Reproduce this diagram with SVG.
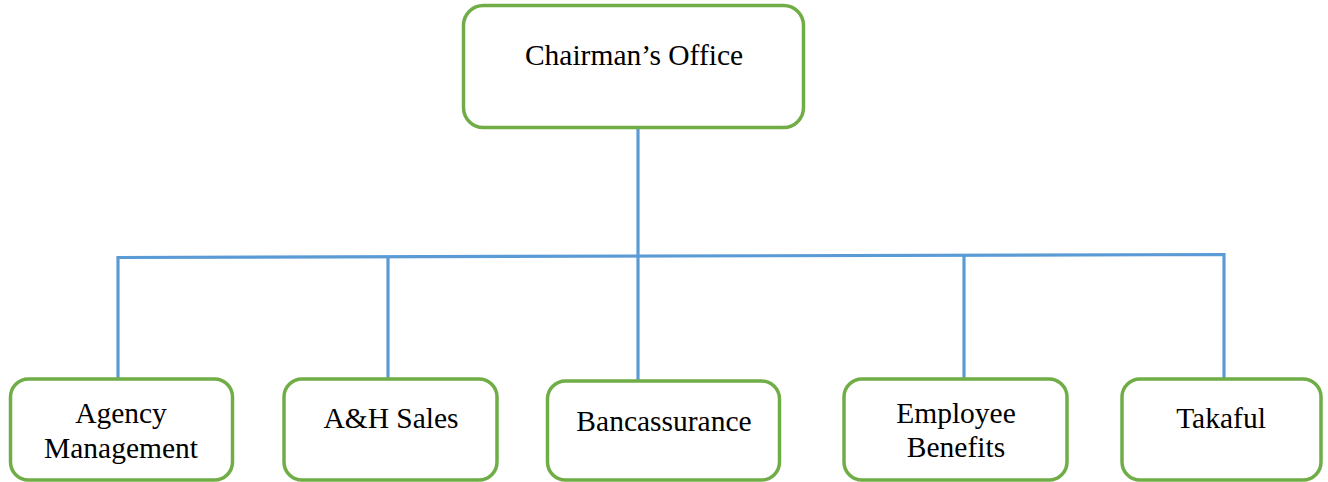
<svg xmlns="http://www.w3.org/2000/svg" width="1328" height="482" viewBox="0 0 1328 482">
<style>
.box{fill:#fff;stroke:#70AD47;stroke-width:3.5}
.lbl{font-family:"Liberation Serif","Times New Roman",serif;font-size:29.5px;fill:#000;text-anchor:middle}
.conn{stroke:#5B9BD5;stroke-width:3.2;fill:none}
</style>
<rect width="1328" height="482" fill="#fff"/>
<g id="connectors">
<path class="conn" d="M118,379 V257.5 L1224,254.5 V379"/>
<path class="conn" d="M388,379 V257"/>
<path class="conn" d="M638,128 V381"/>
<path class="conn" d="M964,379 V255"/>
</g>
<g id="chairman">
<rect class="box" x="463.5" y="5.5" width="340" height="122" rx="20"/>
<text class="lbl" x="634" y="65">Chairman’s Office</text>
</g>
<g id="agency">
<rect class="box" x="10.5" y="379" width="222" height="101" rx="18"/>
<text class="lbl" x="121" y="423">Agency</text>
<text class="lbl" x="121" y="458">Management</text>
</g>
<g id="ah-sales">
<rect class="box" x="284" y="379" width="213" height="101" rx="18"/>
<text class="lbl" x="391" y="428">A&amp;H Sales</text>
</g>
<g id="bancassurance">
<rect class="box" x="547.5" y="381" width="232" height="99" rx="18"/>
<text class="lbl" x="664" y="431">Bancassurance</text>
</g>
<g id="employee-benefits">
<rect class="box" x="844" y="379" width="223" height="101" rx="18"/>
<text class="lbl" x="956" y="423">Employee</text>
<text class="lbl" x="956" y="457">Benefits</text>
</g>
<g id="takaful">
<rect class="box" x="1122" y="379" width="199" height="101" rx="18"/>
<text class="lbl" x="1221" y="428">Takaful</text>
</g>
</svg>
